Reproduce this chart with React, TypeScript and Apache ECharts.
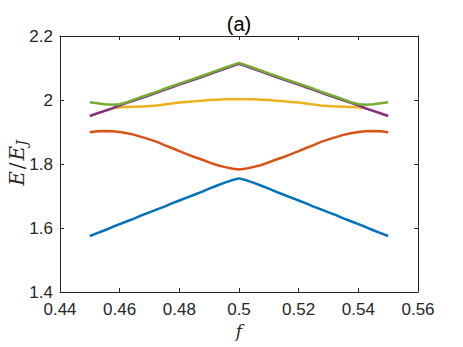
import React, { useEffect, useRef } from "react";
import * as echarts from "echarts";

const xs = [
  0.45, 0.4525, 0.455, 0.4575, 0.46, 0.4625, 0.465, 0.4675, 0.47, 0.4725, 0.475,
  0.4775, 0.48, 0.4825, 0.485, 0.4875, 0.49, 0.4925, 0.495, 0.4975, 0.5,
  0.5025, 0.505, 0.5075, 0.51, 0.5125, 0.515, 0.5175, 0.52, 0.5225, 0.525,
  0.5275, 0.53, 0.5325, 0.535, 0.5375, 0.54, 0.5425, 0.545, 0.5475, 0.55,
];

const level1 = [
  1.575, 1.584, 1.593, 1.603, 1.612, 1.621, 1.63, 1.64, 1.649, 1.658, 1.667,
  1.677, 1.686, 1.695, 1.704, 1.713, 1.723, 1.732, 1.741, 1.749, 1.755,
  1.749, 1.741, 1.732, 1.723, 1.713, 1.704, 1.695, 1.686, 1.677, 1.667,
  1.658, 1.649, 1.64, 1.63, 1.621, 1.612, 1.603, 1.593, 1.584, 1.575,
];

const level2 = [
  1.899, 1.902, 1.903, 1.902, 1.9, 1.896, 1.891, 1.884, 1.877, 1.869, 1.859,
  1.85, 1.84, 1.831, 1.822, 1.814, 1.805, 1.797, 1.791, 1.786, 1.783,
  1.786, 1.791, 1.797, 1.805, 1.814, 1.822, 1.831, 1.84, 1.85, 1.859,
  1.869, 1.877, 1.884, 1.891, 1.896, 1.9, 1.902, 1.903, 1.902, 1.899,
];

const level3 = [
  1.95, 1.958, 1.966, 1.974, 1.977, 1.978, 1.979, 1.98, 1.981, 1.983, 1.986,
  1.989, 1.992, 1.994, 1.996, 1.998, 2.0, 2.001, 2.002, 2.002, 2.002,
  2.002, 2.002, 2.001, 2.0, 1.998, 1.996, 1.994, 1.992, 1.989, 1.986,
  1.983, 1.981, 1.98, 1.979, 1.978, 1.977, 1.974, 1.966, 1.958, 1.95,
];

const level4 = [
  1.95, 1.958, 1.966, 1.974, 1.983, 1.991, 1.999, 2.007, 2.015, 2.023, 2.032,
  2.04, 2.048, 2.056, 2.064, 2.072, 2.08, 2.089, 2.097, 2.105, 2.113,
  2.105, 2.097, 2.089, 2.08, 2.072, 2.064, 2.056, 2.048, 2.04, 2.032,
  2.023, 2.015, 2.007, 1.999, 1.991, 1.983, 1.974, 1.966, 1.958, 1.95,
];

const level5 = [
  1.993, 1.99, 1.987, 1.985, 1.987, 1.993, 2.002, 2.01, 2.018, 2.026, 2.035,
  2.043, 2.051, 2.059, 2.067, 2.075, 2.083, 2.092, 2.1, 2.108, 2.116,
  2.108, 2.1, 2.092, 2.083, 2.075, 2.067, 2.059, 2.051, 2.043, 2.035,
  2.026, 2.018, 2.01, 2.002, 1.993, 1.987, 1.985, 1.987, 1.99, 1.993,
];

const levels = [level1, level2, level3, level4, level5];
const colors = ["#0072BD", "#D95319", "#EDB120", "#7E2F8E", "#77AC30"];

const titleText = "(a)";
const xName = "f";

const FONT = "Liberation Sans";
const SERIF = "DejaVu Serif";
const AXIS_COLOR = "#262626";

export default function App() {
  const ref = useRef<HTMLDivElement>(null);
  useEffect(() => {
    if (!ref.current) return;
    const chart = echarts.init(ref.current, null, { renderer: "svg" });
    const fmt = (v: number) => String(+v.toFixed(2));
    const baseX = {
      type: "value",
      min: 0.44,
      max: 0.56,
      interval: 0.02,
      axisLine: { show: true, onZero: false, lineStyle: { color: AXIS_COLOR, width: 1 } },
      axisTick: { show: true, inside: true, length: 4, lineStyle: { color: AXIS_COLOR } },
      splitLine: { show: false },
    };
    const baseY = {
      type: "value",
      min: 1.4,
      max: 2.2,
      interval: 0.2,
      axisLine: { show: true, onZero: false, lineStyle: { color: AXIS_COLOR, width: 1 } },
      axisTick: { show: true, inside: true, length: 4, lineStyle: { color: AXIS_COLOR } },
      splitLine: { show: false },
    };
    chart.setOption({
      animation: false,
      backgroundColor: "#ffffff",
      grid: { left: 60, right: 45, top: 36, bottom: 55, containLabel: false },
      xAxis: [
        {
          ...baseX,
          position: "bottom",
          axisLabel: { show: true, fontFamily: FONT, fontSize: 17, color: "#262626", margin: 9, formatter: fmt },
          name: xName,
          nameLocation: "middle",
          nameGap: 25,
          nameTextStyle: { fontFamily: SERIF, fontStyle: "italic", fontSize: 17, color: "#262626" },
        },
        { ...baseX, position: "top", axisLabel: { show: false } },
      ],
      yAxis: [
        {
          ...baseY,
          position: "left",
          axisLabel: { show: true, fontFamily: FONT, fontSize: 17, color: "#262626", margin: 7, formatter: fmt },
        },
        { ...baseY, position: "right", axisLabel: { show: false } },
      ],
      graphic: [
        {
          type: "text",
          x: 239,
          y: 24,
          style: {
            text: titleText,
            fontSize: 20,
            fontFamily: FONT,
            align: "center",
            verticalAlign: "middle",
            fill: "#000000",
          },
        },
        {
          type: "text",
          x: 17,
          y: 163,
          rotation: Math.PI / 2,
          style: {
            text: "{e|E}{s|/}{e|E}{sub|J}",
            fontSize: 20,
            fontFamily: SERIF,
            align: "center",
            verticalAlign: "middle",
            fill: "#262626",
            rich: {
              e: { fontFamily: SERIF, fontStyle: "italic", fontSize: 20, fill: "#262626", lineHeight: 22 },
              s: { fontFamily: SERIF, fontSize: 20, fill: "#262626", lineHeight: 22, padding: [0, 2, 0, 2] },
              sub: { fontFamily: SERIF, fontStyle: "italic", fontSize: 14, fill: "#262626", lineHeight: 14, padding: [9, 0, 0, 0] },
            },
          },
        },
      ],
      series: levels.map((lv, i) => ({
        type: "line",
        xAxisIndex: 0,
        yAxisIndex: 0,
        data: xs.map((x, j) => [x, lv[j]]),
        showSymbol: false,
        symbol: "none",
        lineStyle: { color: colors[i], width: 2.5 },
        smooth: false,
      })),
    });
    return () => chart.dispose();
  }, []);
  return (
    <div
      ref={ref}
      style={{ position: "absolute", left: 0, top: 0, width: 463, height: 347 }}
    />
  );
}
